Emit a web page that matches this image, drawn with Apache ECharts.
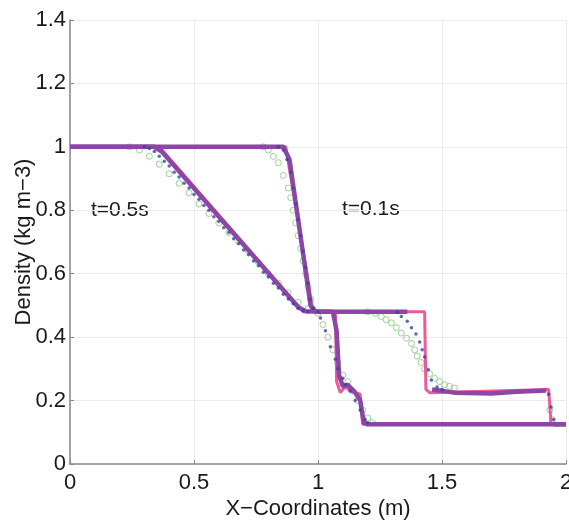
<!DOCTYPE html>
<html>
<head>
<meta charset="utf-8">
<script src="https://cdn.jsdelivr.net/npm/echarts@6/dist/echarts.min.js"></script>
<style>
html,body{margin:0;padding:0;background:#fff;}
#c{width:569px;height:522px;}
</style>
</head>
<body>
<div id="c"></div>
<script>
// x ticks / y ticks
var xTicks = [0, 0.5, 1, 1.5, 2];
var yTicks = [0, 0.2, 0.4, 0.6, 0.8, 1, 1.2, 1.4];

// sharp (pink) profiles
var pinkT05 = [[0,1],[0.36,1],[0.94,0.48],[1.07,0.48],[1.075,0.26],[1.09,0.225],[1.11,0.245],[1.13,0.23],[1.17,0.22],[1.18,0.125],[2,0.125]];
var pinkT01 = [[0,1],[0.87,1],[0.98,0.48],[1.43,0.48],[1.435,0.235],[1.45,0.225],[1.93,0.235],[1.94,0.125],[2,0.125]];

// thick purple profiles ('-' = gap)
var purpleT05 = [[0,1],[0.34,1],[0.37,0.985],[0.92,0.495],[0.95,0.482],[1.06,0.48],[1.075,0.42],[1.085,0.28],[1.10,0.245],[1.12,0.25],[1.15,0.225],[1.17,0.2],[1.185,0.13],[1.2,0.125],[2,0.125]];
var purpleT01 = [[0,1],[0.86,1],[0.885,0.96],[0.97,0.5],[0.99,0.48],[1.36,0.48],[1.37,'-'],[1.46,0.235],[1.55,0.225],[1.7,0.222],[1.8,0.228],[1.92,0.232],[1.93,'-'],[1.95,0.125],[2,0.125]];

// blue dots
var blueT05 = [[0.30,1.0],[0.32,0.995],[0.34,0.985],[0.36,0.97],[0.38,0.955],[0.40,0.94],[0.42,0.92],[0.44,0.905],[0.46,0.885],[0.48,0.87],[0.50,0.85],[0.52,0.835],[0.54,0.815],[0.56,0.80],[0.58,0.78],[0.60,0.765],[0.62,0.745],[0.64,0.73],[0.66,0.71],[0.68,0.695],[0.70,0.675],[0.72,0.66],[0.74,0.64],[0.76,0.625],[0.78,0.605],[0.80,0.59],[0.82,0.57],[0.84,0.555],[0.86,0.535],[0.88,0.52],[0.90,0.505],[0.92,0.49],[0.94,0.483],[0.96,0.48],
  [1.01,0.46],[1.03,0.42],[1.05,0.37],[1.07,0.33],[1.08,0.30],[1.10,0.27],[1.11,0.25],[1.13,0.23],[1.15,0.2],[1.17,0.17],[1.19,0.14],[1.2,0.13]];
var blueT01 = [[0.84,1],[0.86,0.99],[0.875,0.96],[0.89,0.92],[0.90,0.87],[0.91,0.82],[0.92,0.77],[0.93,0.72],[0.94,0.67],[0.95,0.62],[0.96,0.57],[0.97,0.52],[0.98,0.49],[1.0,0.48],
  [1.32,0.478],[1.336,0.465],[1.36,0.45],[1.377,0.43],[1.395,0.41],[1.41,0.385],[1.42,0.36],[1.43,0.337],[1.445,0.297],[1.457,0.265],[1.48,0.243],[1.50,0.235],
  [1.93,0.22],[1.94,0.18],[1.95,0.14]];

// green circles
var greenT05 = [[0.24,1.0],[0.28,0.99],[0.32,0.97],[0.36,0.945],[0.40,0.915],[0.44,0.885],[0.48,0.855],[0.52,0.82],[0.56,0.79],[0.60,0.76],[0.64,0.73],[0.68,0.70],[0.72,0.67],[0.76,0.635],[0.80,0.60],[0.84,0.57],[0.88,0.54],[0.92,0.51],[0.96,0.49],[1.00,0.475],
  [1.02,0.44],[1.04,0.40],[1.06,0.36],[1.08,0.32],[1.10,0.28],[1.12,0.26],[1.14,0.23],[1.16,0.2],[1.18,0.17],[1.2,0.145],[1.22,0.13]];
var greenT01 = [[0.78,1],[0.80,0.99],[0.82,0.97],[0.84,0.95],[0.86,0.91],[0.88,0.87],[0.89,0.84],[0.90,0.80],[0.91,0.76],[0.92,0.72],[0.93,0.68],[0.94,0.64],[0.95,0.60],[0.96,0.56],[0.97,0.52],[0.98,0.49],
  [1.20,0.48],[1.23,0.475],[1.255,0.465],[1.275,0.455],[1.296,0.445],[1.316,0.43],[1.336,0.413],[1.357,0.397],[1.377,0.38],[1.39,0.36],[1.40,0.34],[1.415,0.32],[1.43,0.30],[1.45,0.285],[1.47,0.27],[1.49,0.26],[1.51,0.25],[1.53,0.245],[1.55,0.24],
  [1.935,0.17],[1.945,0.14]];

var chart = echarts.init(document.getElementById('c'), null, {renderer:'canvas'});
var FONT = '"Liberation Sans", Arial, sans-serif';
function lineS(data, color, width, z) {
  return {type:'line', data:data, connectNulls:false, showSymbol:false, symbol:'none', lineStyle:{color:color, width:width}, z:z, animation:false};
}
function dotS(data, size, style, z) {
  return {type:'scatter', data:data, symbol:'circle', symbolSize:size, itemStyle:style, z:z, animation:false};
}
chart.setOption({
  animation:false,
  backgroundColor:'#fff',
  grid:{left:70, right:3, top:20, bottom:58, containLabel:false, outerBoundsMode:'none'},
  xAxis:{type:'value', min:xTicks[0], max:xTicks[xTicks.length-1], interval:0.5,
    name:'X\u2212Coordinates (m)', nameLocation:'middle', nameGap:34, nameMoveOverlap:false,
    nameTextStyle:{fontFamily:FONT, fontSize:22, color:'#1a1a1a'},
    axisLine:{show:true, lineStyle:{color:'#888', width:1.5}},
    axisTick:{show:true, inside:true, length:4, lineStyle:{color:'#888'}},
    axisLabel:{fontFamily:FONT, fontSize:22, color:'#1a1a1a', margin:8, hideOverlap:false},
    splitLine:{show:true, lineStyle:{color:'#ececec'}}},
  yAxis:{type:'value', min:yTicks[0], max:yTicks[yTicks.length-1], interval:0.2,
    name:'Density (kg m\u22123)', nameLocation:'middle', nameGap:35, nameMoveOverlap:false,
    nameTextStyle:{fontFamily:FONT, fontSize:22, color:'#1a1a1a'},
    axisLine:{show:true, lineStyle:{color:'#888', width:1.5}},
    axisTick:{show:true, inside:true, length:4, lineStyle:{color:'#888'}},
    axisLabel:{fontFamily:FONT, fontSize:22, color:'#1a1a1a', margin:4,
      formatter:function(v){return String(Math.round(v*10)/10);}},
    splitLine:{show:true, lineStyle:{color:'#ececec'}}},
  graphic:[
    {type:'text', left:91, top:200, style:{text:'t=0.5s', font:'21px '+FONT, fill:'#1a1a1a'}},
    {type:'text', left:342, top:199, style:{text:'t=0.1s', font:'21px '+FONT, fill:'#1a1a1a'}}
  ],
  series:[
    dotS(greenT05, 6, {color:'rgba(0,0,0,0)', borderColor:'#82c682', borderWidth:1}, 1),
    dotS(greenT01, 6, {color:'rgba(0,0,0,0)', borderColor:'#82c682', borderWidth:1}, 1),
    lineS(pinkT05, '#ec5a9a', 3, 2),
    lineS(pinkT01, '#ec5a9a', 3, 2),
    lineS(purpleT05, '#8d45a6', 4.5, 3),
    lineS(purpleT01, '#8d45a6', 4.5, 3),
    dotS(blueT05, 3.5, {color:'#34459e'}, 4),
    dotS(blueT01, 3.5, {color:'#34459e'}, 4)
  ]
});
</script>
</body>
</html>
